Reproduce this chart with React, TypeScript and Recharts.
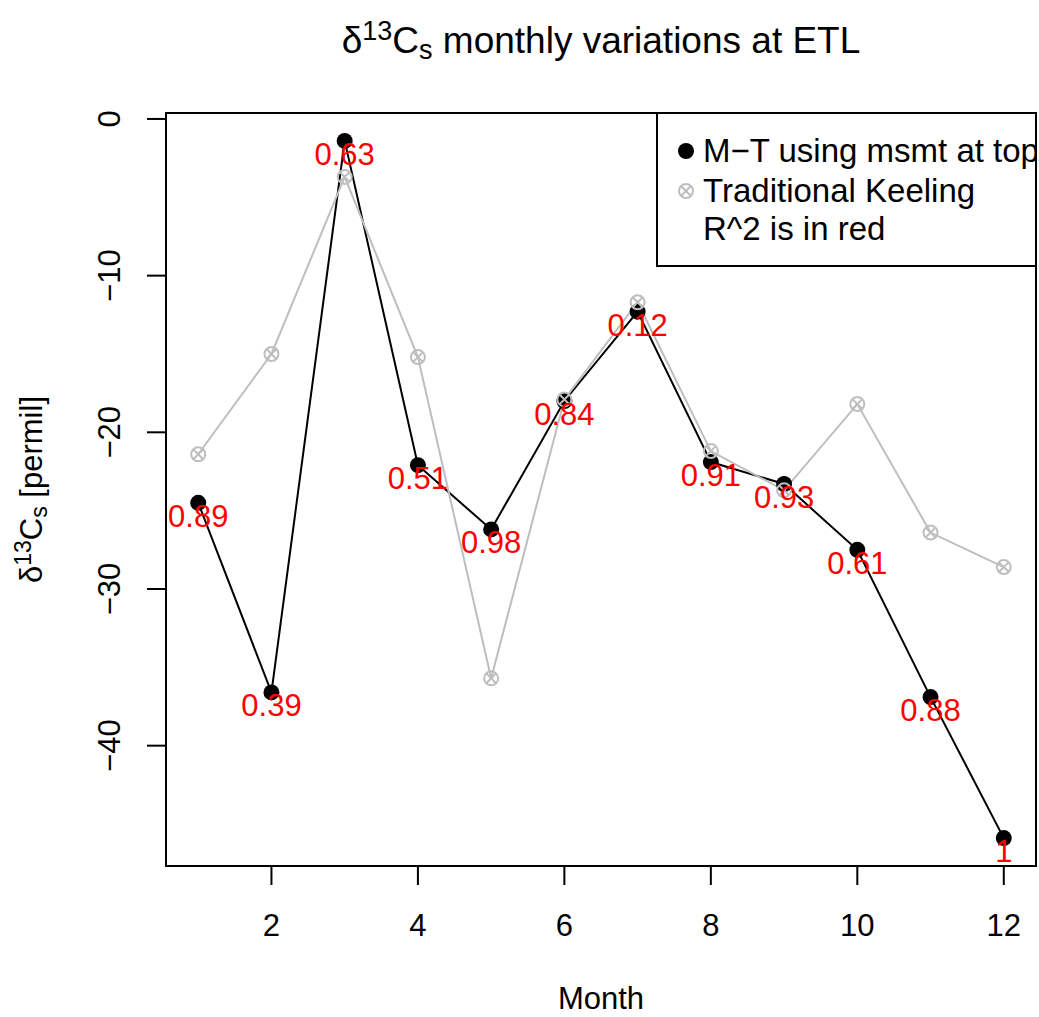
import React from 'react';
import { LineChart, Line, XAxis, YAxis, ReferenceArea, LabelList } from 'recharts';

// monthly d13Cs estimates at ETL
const months = [1, 2, 3, 4, 5, 6, 7, 8, 9, 10, 11, 12];
const mtTop = [-24.5, -36.6, -1.4, -22.1, -26.2, -18.0, -12.3, -21.9, -23.3, -27.5, -36.9, -45.9];
const keeling = [-21.4, -15.0, -3.7, -15.2, -35.7, -17.9, -11.7, -21.2, -23.7, -18.2, -26.4, -28.6];
const r2Labels = ['0.89', '0.39', '0.63', '0.51', '0.98', '0.84', '0.12', '0.91', '0.93', '0.61', '0.88', '1'];
const xTicks = [2, 4, 6, 8, 10, 12];
const yTicks = [0, -10, -20, -30, -40];

const xDomain = [0.56, 12.44];
const yDomain = [-47.68, 0.38];

const FONT = '"Liberation Sans", Arial, Helvetica, sans-serif';
const GRAY = '#BEBEBE';

const W = 1039;
const H = 1017;
const plot = { left: 166, right: 1036, top: 113, bottom: 866 };

const data = months.map((m, i) => ({ month: m, mt: mtTop[i], keeling: keeling[i], r2: r2Labels[i] }));

const fmt = (v: number) => (v < 0 ? '\u2212' + Math.abs(v) : String(v));

function XTick(props: any) {
  const { x, payload } = props;
  return (
    <text x={x} y={936} textAnchor="middle" fontSize={31} fontFamily={FONT} fill="#000">
      {fmt(payload.value)}
    </text>
  );
}

function YTick(props: any) {
  const { y, payload } = props;
  return (
    <text transform={`translate(120,${y}) rotate(-90)`} textAnchor="middle" fontSize={31} fontFamily={FONT} fill="#000">
      {fmt(payload.value)}
    </text>
  );
}

function CrossDot(props: any) {
  const { cx, cy } = props;
  if (cx == null || cy == null) return null;
  const r = 7;
  const d = r * 0.707;
  return (
    <g stroke={GRAY} strokeWidth={2} fill="none">
      <circle cx={cx} cy={cy} r={r} />
      <line x1={cx - d} y1={cy - d} x2={cx + d} y2={cy + d} />
      <line x1={cx - d} y1={cy + d} x2={cx + d} y2={cy - d} />
    </g>
  );
}

function R2Label(props: any) {
  const { x, y, value } = props;
  return (
    <text x={x} y={y + 24} textAnchor="middle" fontSize={31} fontFamily={FONT} fill="#FF0000">
      {value}
    </text>
  );
}

export default function App() {
  return (
    <div style={{ position: 'absolute', left: 0, top: 0, width: W, height: H, background: '#fff' }}>
      <LineChart
        width={W}
        height={H}
        data={data}
        margin={{ top: plot.top, right: W - plot.right, bottom: H - plot.bottom - 60, left: plot.left - 60 }}
      >
        <XAxis
          dataKey="month"
          type="number"
          domain={xDomain}
          ticks={xTicks}
          allowDataOverflow
          height={60}
          axisLine={false}
          tickSize={19}
          tickLine={{ stroke: '#000', strokeWidth: 2 }}
          tick={<XTick />}
        />
        <YAxis
          type="number"
          domain={yDomain}
          ticks={yTicks}
          allowDataOverflow
          width={60}
          axisLine={false}
          tickSize={19}
          tickLine={{ stroke: '#000', strokeWidth: 2 }}
          tick={<YTick />}
        />
        <ReferenceArea
          x1={xDomain[0]}
          x2={xDomain[1]}
          y1={yDomain[0]}
          y2={yDomain[1]}
          fill="none"
          stroke="#000"
          strokeWidth={2}
          ifOverflow="visible"
        />
        <Line dataKey="mt" stroke="none" dot={false} activeDot={false} isAnimationActive={false}>
          <LabelList dataKey="r2" content={<R2Label />} />
        </Line>
        <Line
          dataKey="mt"
          stroke="#000"
          strokeWidth={2}
          dot={{ r: 8, fill: '#000', stroke: 'none' }}
          activeDot={false}
          isAnimationActive={false}
        />
        <Line
          dataKey="keeling"
          stroke={GRAY}
          strokeWidth={2}
          dot={<CrossDot />}
          activeDot={false}
          isAnimationActive={false}
        />
      </LineChart>

      <svg width={W} height={H} style={{ position: 'absolute', left: 0, top: 0, pointerEvents: 'none' }}>
        <defs>
          <clipPath id="plotClip">
            <rect x={plot.left} y={plot.top} width={plot.right - plot.left} height={plot.bottom - plot.top} />
          </clipPath>
        </defs>
        {/* title */}
        <text x={(plot.left + plot.right) / 2} y={53} textAnchor="middle" fontSize={37} fontFamily={FONT} fill="#000">
          δ<tspan fontSize={27} dy={-13}>13</tspan>
          <tspan dy={13}>C</tspan>
          <tspan fontSize={27} dy={6}>s</tspan>
          <tspan dy={-6}> monthly variations at ETL</tspan>
        </text>
        {/* axis titles */}
        <text x={(plot.left + plot.right) / 2} y={1009} textAnchor="middle" fontSize={31} fontFamily={FONT} fill="#000">
          Month
        </text>
        <text
          transform={`translate(42,${(plot.top + plot.bottom) / 2}) rotate(-90)`}
          textAnchor="middle"
          fontSize={31}
          fontFamily={FONT}
          fill="#000"
        >
          δ<tspan fontSize={23} dy={-11}>13</tspan>
          <tspan dy={11}>C</tspan>
          <tspan fontSize={23} dy={5}>s</tspan>
          <tspan dy={-5}> [permil]</tspan>
        </text>
        {/* legend */}
        <g clipPath="url(#plotClip)">
          <rect x={657} y={plot.top} width={plot.right - 657} height={266 - plot.top} fill="#fff" stroke="#000" strokeWidth={2} />
          <circle cx={686} cy={151} r={8} fill="#000" />
          <CrossDot cx={686} cy={191} />
          <text x={703} y={162} fontSize={33} fontFamily={FONT} fill="#000">M{'\u2212'}T using msmt at top</text>
          <text x={703} y={202} fontSize={33} fontFamily={FONT} fill="#000">Traditional Keeling</text>
          <text x={703} y={240} fontSize={33} fontFamily={FONT} fill="#000">R^2 is in red</text>
        </g>
        <rect x={plot.left} y={plot.top} width={plot.right - plot.left} height={plot.bottom - plot.top} fill="none" stroke="#000" strokeWidth={2} />
      </svg>
    </div>
  );
}
